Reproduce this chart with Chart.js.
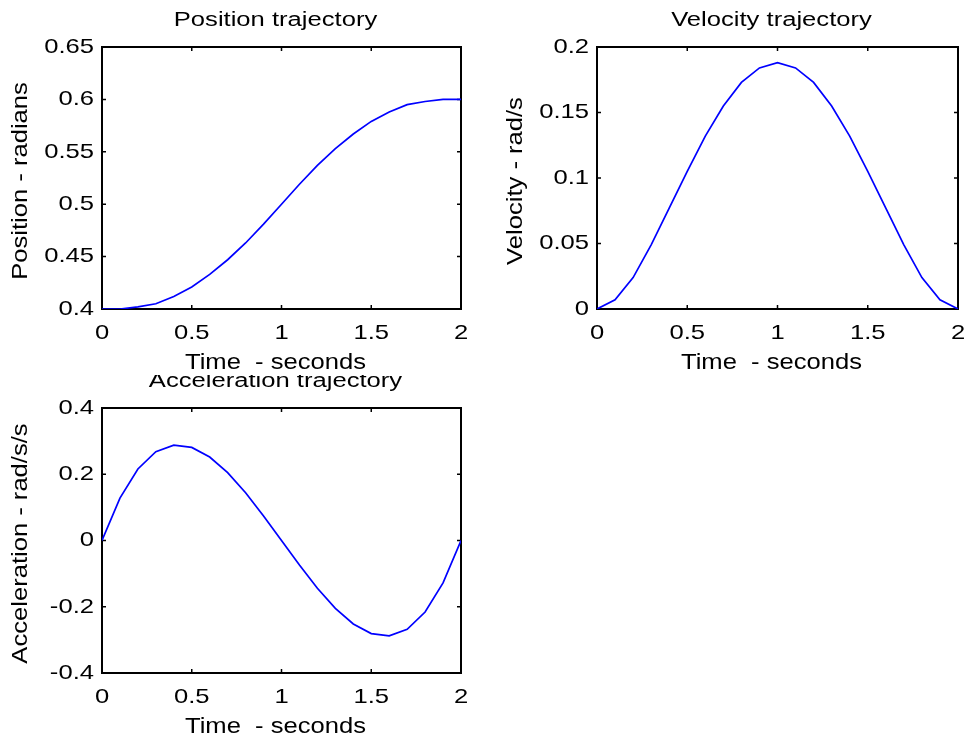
<!DOCTYPE html>
<html>
<head>
<meta charset="utf-8">
<script src="https://cdn.jsdelivr.net/npm/chart.js@4.4.1/dist/chart.umd.min.js"></script>
<style>
  html, body { margin: 0; padding: 0; background: #fff; }
  #fig { position: relative; width: 971px; height: 743px; overflow: hidden; }
  #fig canvas { position: absolute; }
</style>
</head>
<body>
<div id="fig">
  <canvas id="posChart" width="490" height="375" style="left:0;top:0"></canvas>
  <canvas id="velChart" width="481" height="375" style="left:490px;top:0"></canvas>
  <canvas id="accChart" width="490" height="368" style="left:0;top:375px"></canvas>
</div>
<script>
// time samples (seconds)
const timeS = [0, 0.1, 0.2, 0.3, 0.4, 0.5, 0.6, 0.7, 0.8, 0.9, 1.0,
               1.1, 1.2, 1.3, 1.4, 1.5, 1.6, 1.7, 1.8, 1.9, 2.0];

// values
const positionRad = [0.400, 0.400, 0.402, 0.405, 0.412, 0.421, 0.433, 0.447, 0.463, 0.481, 0.500,
                     0.519, 0.537, 0.553, 0.567, 0.579, 0.588, 0.595, 0.598, 0.600, 0.600];
const velocityRad = [0, 0.007, 0.024, 0.049, 0.077, 0.105, 0.132, 0.155, 0.173, 0.184, 0.188,
                     0.184, 0.173, 0.155, 0.132, 0.105, 0.077, 0.049, 0.024, 0.007, 0];
const accelRad = [0, 0.128, 0.216, 0.268, 0.288, 0.281, 0.252, 0.205, 0.144, 0.074, 0,
                  -0.074, -0.144, -0.205, -0.252, -0.281, -0.288, -0.268, -0.216, -0.128, 0];

// tick labels
const timeTicks = [0, 0.5, 1, 1.5, 2];
const posTicks = [0.4, 0.45, 0.5, 0.55, 0.6, 0.65];
const velTicks = [0, 0.05, 0.1, 0.15, 0.2];
const accTicks = [-0.4, -0.2, 0, 0.2, 0.4];

const FONT = "'Liberation Sans', Arial, sans-serif";
Chart.defaults.font.family = FONT;
Chart.defaults.color = '#000';

// text is wider than Arial in the original, so stretch along the text
function drawText(ctx, str, x, y, size, sx, align, rot) {
  ctx.save();
  ctx.translate(x, y);
  if (rot) ctx.rotate(rot);
  ctx.scale(sx, 1);
  ctx.font = size + 'px ' + FONT;
  ctx.fillStyle = '#000';
  ctx.textAlign = align;
  ctx.textBaseline = 'middle';
  ctx.fillText(str, 0, 0);
  ctx.restore();
}

// matlab style box with inward ticks on all four sides
const boxPlugin = {
  id: 'box',
  beforeDatasetsDraw(chart) {
    const { ctx, chartArea: a, scales: { x, y } } = chart;
    ctx.save();
    ctx.strokeStyle = '#000';
    ctx.lineWidth = 2;
    ctx.strokeRect(a.left, a.top, a.right - a.left, a.bottom - a.top);
    ctx.lineWidth = 1.5;
    ctx.beginPath();
    x.ticks.forEach(t => {
      const px = x.getPixelForValue(t.value);
      ctx.moveTo(px, a.bottom); ctx.lineTo(px, a.bottom - 4);
      ctx.moveTo(px, a.top); ctx.lineTo(px, a.top + 4);
    });
    y.ticks.forEach(t => {
      const py = y.getPixelForValue(t.value);
      ctx.moveTo(a.left, py); ctx.lineTo(a.left + 4, py);
      ctx.moveTo(a.right, py); ctx.lineTo(a.right - 4, py);
    });
    ctx.stroke();
    ctx.restore();
  },
  afterDraw(chart) {
    const o = chart.options.plugins.box;
    const { ctx, chartArea: a, scales: { x, y } } = chart;
    const cx = (a.left + a.right) / 2 - 6;
    const cy = (a.top + a.bottom) / 2 + 3;
    x.ticks.forEach(t => {
      drawText(ctx, String(t.value), x.getPixelForValue(t.value), a.bottom + 24.5, 21, 1.22, 'center');
    });
    y.ticks.forEach(t => {
      drawText(ctx, String(t.value), a.left - 8, y.getPixelForValue(t.value), 21, 1.22, 'right');
    });
    drawText(ctx, o.title, cx, a.top - 27, 20, 1.28, 'center');
    drawText(ctx, o.xTitle, cx, a.bottom + 54.5, 21.5, 1.19, 'center');
    drawText(ctx, o.yTitle, a.left - 81, cy, 21.5, 1.19, 'center', -Math.PI / 2);
  }
};

function makeChart(id, values, yTicks, pad, xHeight, titles) {
  return new Chart(document.getElementById(id), {
    type: 'line',
    data: {
      datasets: [{
        data: timeS.map((t, i) => ({ x: t, y: values[i] })),
        borderColor: '#0000ff',
        borderWidth: 1.7,
        pointRadius: 0,
        tension: 0,
        fill: false
      }]
    },
    options: {
      responsive: false,
      animation: false,
      layout: { padding: pad },
      plugins: {
        legend: { display: false },
        tooltip: { enabled: false },
        box: titles
      },
      scales: {
        x: {
          type: 'linear',
          min: timeTicks[0],
          max: timeTicks[timeTicks.length - 1],
          afterBuildTicks: s => { s.ticks = timeTicks.map(v => ({ value: v })); },
          afterFit: s => { s.height = xHeight; },
          grid: { display: false, drawTicks: false },
          border: { display: false },
          ticks: { display: false }
        },
        y: {
          min: yTicks[0],
          max: yTicks[yTicks.length - 1],
          afterBuildTicks: s => { s.ticks = yTicks.map(v => ({ value: v })); },
          afterFit: s => { s.width = pad.yWidth; },
          grid: { display: false, drawTicks: false },
          border: { display: false },
          ticks: { display: false }
        }
      }
    },
    plugins: [boxPlugin]
  });
}

makeChart('posChart', positionRad, posTicks,
  { left: 0, top: 47, right: 29, bottom: 0, yWidth: 102 }, 66,
  { title: 'Position trajectory', xTitle: 'Time  - seconds', yTitle: 'Position - radians' });

makeChart('velChart', velocityRad, velTicks,
  { left: 0, top: 47, right: 13, bottom: 0, yWidth: 107 }, 66,
  { title: 'Velocity trajectory', xTitle: 'Time  - seconds', yTitle: 'Velocity - rad/s' });

makeChart('accChart', accelRad, accTicks,
  { left: 0, top: 33, right: 29, bottom: 0, yWidth: 102 }, 70,
  { title: 'Acceleration trajectory', xTitle: 'Time  - seconds', yTitle: 'Acceleration - rad/s/s' });
</script>
</body>
</html>
